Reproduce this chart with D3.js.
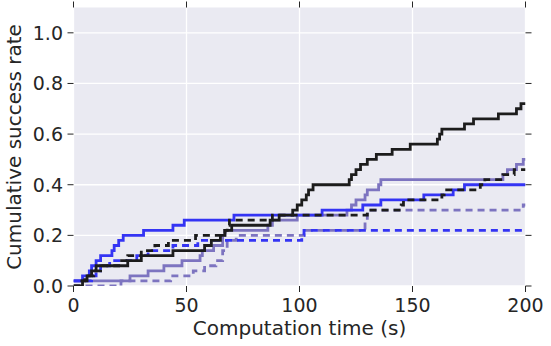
<html>
<head>
<meta charset="utf-8">
<style>
body { margin: 0; background: #fff; }
text { font-family: "DejaVu Sans", sans-serif; fill: #262626; }
.plot-bg { fill: #eaeaf2; }
.grid line { stroke: #fff; stroke-width: 1.3px; }
.tick-mark { stroke: #262626; stroke-width: 1px; }
.series { fill: none; stroke-width: 2.8px; }
</style>
</head>
<body>
<script src="https://cdnjs.cloudflare.com/ajax/libs/d3/7.8.5/d3.min.js"></script>
<script>

// times (s) at which the cumulative rate steps up, and the rate after each step
var blackSolidT = [0, 4, 6, 8, 10, 24, 30, 44, 58, 61, 65, 67, 70, 87, 91, 97, 99, 101, 103, 104, 106, 109, 122, 123, 125, 127, 130, 134, 141, 149, 161, 162, 163, 173, 177, 188, 196, 198];
var blackSolidR = [0, .02, .04, .06, .08, .10, .12, .14, .16, .18, .20, .22, .24, .26, .28, .30, .32, .34, .36, .38, .40, .40, .42, .44, .46, .48, .50, .52, .54, .56, .58, .60, .62, .64, .66, .68, .70, .72];

var blackDashT = [0, 3, 5, 9, 12, 20, 24, 30, 36, 42, 54, 67, 68, 69, 88, 130, 145, 146, 163, 164, 180, 182, 190, 195];
var blackDashR = [0, .02, .04, .06, .08, .10, .12, .14, .16, .18, .20, .22, .24, .26, .28, .30, .32, .34, .36, .38, .40, .42, .44, .46];

var blueSolidT = [0, 4, 7, 8, 10, 12, 17, 18, 20, 22, 31, 44, 49, 71, 110, 128, 136, 155, 168, 173];
var blueSolidR = [.02, .04, .06, .08, .10, .12, .14, .16, .18, .20, .22, .24, .26, .28, .30, .32, .34, .36, .38, .40];

var blueDashT = [0, 8, 10, 12, 16, 28, 33, 44, 55, 101, 102];
var blueDashR = [.02, .04, .06, .08, .10, .12, .14, .16, .18, .20, .22];

var purpleSolidT = [0, 25, 33, 40, 48, 56, 57, 62, 66, 67, 86, 88, 99, 121, 123, 125, 129, 130, 135, 136, 190, 192, 196, 199];
var purpleSolidR = [.02, .04, .06, .08, .10, .12, .14, .16, .20, .22, .24, .26, .28, .30, .32, .34, .36, .38, .40, .42, .44, .46, .48, .50];

var purpleDashT = [0, 21, 43, 53, 58, 63, 66, 68, 72, 102, 129, 130, 199];
var purpleDashR = [0, .02, .04, .06, .08, .10, .14, .18, .20, .22, .26, .30, .32];

var xTicks = [0, 50, 100, 150, 200];
var yTicks = [0, 0.2, 0.4, 0.6, 0.8, 1.0];

var series = [
	{t: purpleDashT, r: purpleDashR, color: "#7d74c0", dash: "7,5"},
	{t: purpleSolidT, r: purpleSolidR, color: "#7d74c0", dash: null},
	{t: blueDashT, r: blueDashR, color: "#3434f4", dash: "7,5"},
	{t: blueSolidT, r: blueSolidR, color: "#3434f4", dash: null},
	{t: blackDashT, r: blackDashR, color: "#1c1c1c", dash: "7,5"},
	{t: blackSolidT, r: blackSolidR, color: "#1c1c1c", dash: null}
];

var width = 551, height = 346;
var pLeft = 73.5, pRight = 525.5, pTop = 7.5, pBottom = 286;

var svg = d3.select("body").append("svg")
	.attr("width", width)
	.attr("height", height);

var x = d3.scaleLinear().domain([0, 200]).range([pLeft, pRight]);
var y = d3.scaleLinear().domain([0, 1.1]).range([pBottom, pTop]);

svg.append("rect")
	.attr("class", "plot-bg")
	.attr("x", pLeft).attr("y", pTop)
	.attr("width", pRight - pLeft).attr("height", pBottom - pTop);

svg.append("clipPath").attr("id", "clip")
	.append("rect")
	.attr("x", pLeft).attr("y", pTop)
	.attr("width", pRight - pLeft).attr("height", pBottom - pTop);

var grid = svg.append("g").attr("class", "grid");
grid.selectAll(".gx").data(xTicks).enter().append("line")
	.attr("x1", d => x(d)).attr("x2", d => x(d))
	.attr("y1", pTop).attr("y2", pBottom);
grid.selectAll(".gy").data(yTicks).enter().append("line")
	.attr("x1", pLeft).attr("x2", pRight)
	.attr("y1", d => y(d)).attr("y2", d => y(d));

// ticks on all four sides, pointing out
var ticks = svg.append("g");
xTicks.forEach(function(d) {
	ticks.append("line").attr("class", "tick-mark")
		.attr("x1", x(d)).attr("x2", x(d)).attr("y1", pBottom).attr("y2", pBottom + 6);
	ticks.append("line").attr("class", "tick-mark")
		.attr("x1", x(d)).attr("x2", x(d)).attr("y1", pTop).attr("y2", pTop - 6);
});
yTicks.forEach(function(d) {
	ticks.append("line").attr("class", "tick-mark")
		.attr("x1", pLeft).attr("x2", pLeft - 6).attr("y1", y(d)).attr("y2", y(d));
	ticks.append("line").attr("class", "tick-mark")
		.attr("x1", pRight).attr("x2", pRight + 6).attr("y1", y(d)).attr("y2", y(d));
});

var line = d3.line()
	.x(d => x(d[0]))
	.y(d => y(d[1]))
	.curve(d3.curveStepAfter);

var lines = svg.append("g").attr("clip-path", "url(#clip)");
series.forEach(function(s) {
	var pts = s.t.map((t, i) => [t, s.r[i]]);
	pts.push([200, s.r[s.r.length - 1]]);
	lines.append("path")
		.attr("class", "series")
		.attr("d", line(pts))
		.attr("stroke", s.color)
		.attr("stroke-dasharray", s.dash);
});

svg.append("g").selectAll("text").data(xTicks).enter().append("text")
	.attr("x", d => x(d)).attr("y", 312)
	.attr("text-anchor", "middle")
	.style("font-size", "19px")
	.text(d => d);

svg.append("g").selectAll("text").data(yTicks).enter().append("text")
	.attr("x", 63).attr("y", d => y(d) + 7)
	.attr("text-anchor", "end")
	.style("font-size", "19px")
	.text(d => d.toFixed(1));

svg.append("text")
	.attr("x", x(100)).attr("y", 335)
	.attr("text-anchor", "middle")
	.style("font-size", "20px")
	.text("Computation time (s)");

svg.append("text")
	.attr("transform", "translate(21," + 147 + ") rotate(-90)")
	.attr("text-anchor", "middle")
	.style("font-size", "20px")
	.text("Cumulative success rate");

</script>
</body>
</html>
